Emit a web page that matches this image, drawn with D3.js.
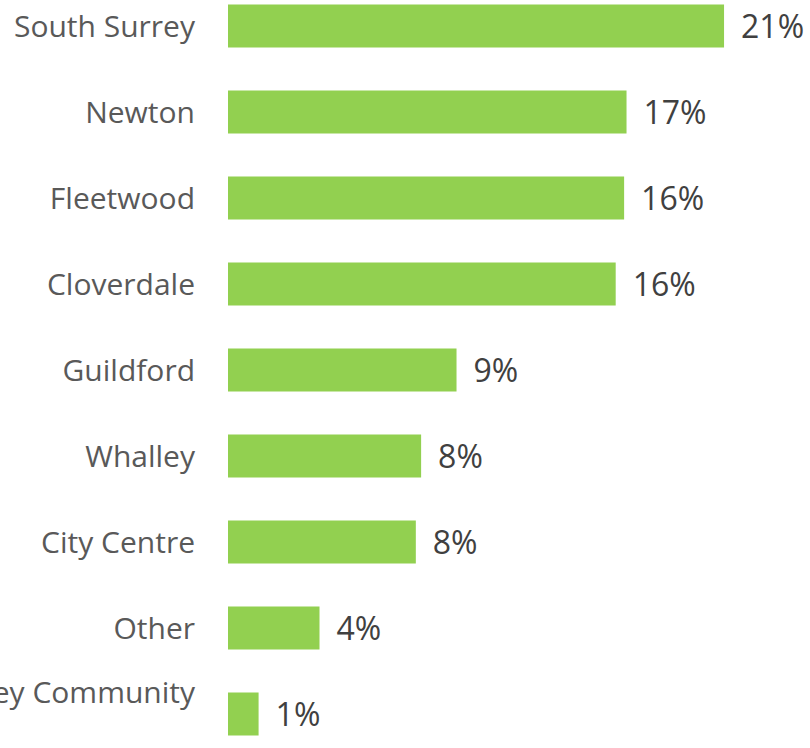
<!DOCTYPE html>
<html>
<head>
<meta charset="utf-8">
<script src="https://cdn.jsdelivr.net/npm/d3@7"></script>
<style>
  html, body { margin: 0; padding: 0; background: #fff; overflow: hidden; }
  svg { display: block; }
</style>
</head>
<body>
<svg id="chart" width="810" height="748"></svg>
<script>
// Share of respondents by community
const categories = ["South Surrey", "Newton", "Fleetwood", "Cloverdale", "Guildford",
                    "Whalley", "City Centre", "Other", "Non-Surrey Community"];
const values = [0.206, 0.1655, 0.1645, 0.161, 0.0949, 0.0802, 0.078, 0.038, 0.0127];

const W = 810, H = 748;
const barColor = "#92d050";

const svg = d3.select("#chart");

const x = d3.scaleLinear().domain([0, 0.25]).range([228, 830]);
const y = d3.scaleBand().domain(categories).range([-17, 757]).paddingInner(0.5).paddingOuter(0.25);

const fmt = v => Math.round(v * 100) + "%";
const rows = categories.map((c, i) => ({ c, v: values[i] }));

svg.selectAll("rect.bar").data(rows).join("rect")
  .attr("class", "bar")
  .attr("x", x(0))
  .attr("y", d => y(d.c))
  .attr("width", d => x(d.v) - x(0))
  .attr("height", y.bandwidth())
  .attr("fill", barColor);

// category labels, right-aligned left of the bars
const labelFont = "'Open Sans', 'Noto Sans', sans-serif";
svg.selectAll("text.cat").data(rows).join("text")
  .attr("class", "cat")
  .attr("x", 195)
  .attr("y", (d, i) => y(d.c) + y.bandwidth() / 2 + (i === categories.length - 1 ? -22 : 0))
  .attr("dy", "0.35em")
  .attr("text-anchor", "end")
  .attr("font-family", labelFont)
  .attr("font-size", 30)
  .attr("fill", "#595959")
  .text(d => d.c);

// value labels at bar ends
svg.selectAll("text.val").data(rows).join("text")
  .attr("class", "val")
  .attr("x", d => x(d.v) + 17)
  .attr("y", d => y(d.c) + y.bandwidth() / 2 + 1)
  .attr("dy", "0.35em")
  .attr("font-family", labelFont)
  .attr("font-size", 32)
  .attr("fill", "#404040")
  .text(d => fmt(d.v));
</script>
</body>
</html>
